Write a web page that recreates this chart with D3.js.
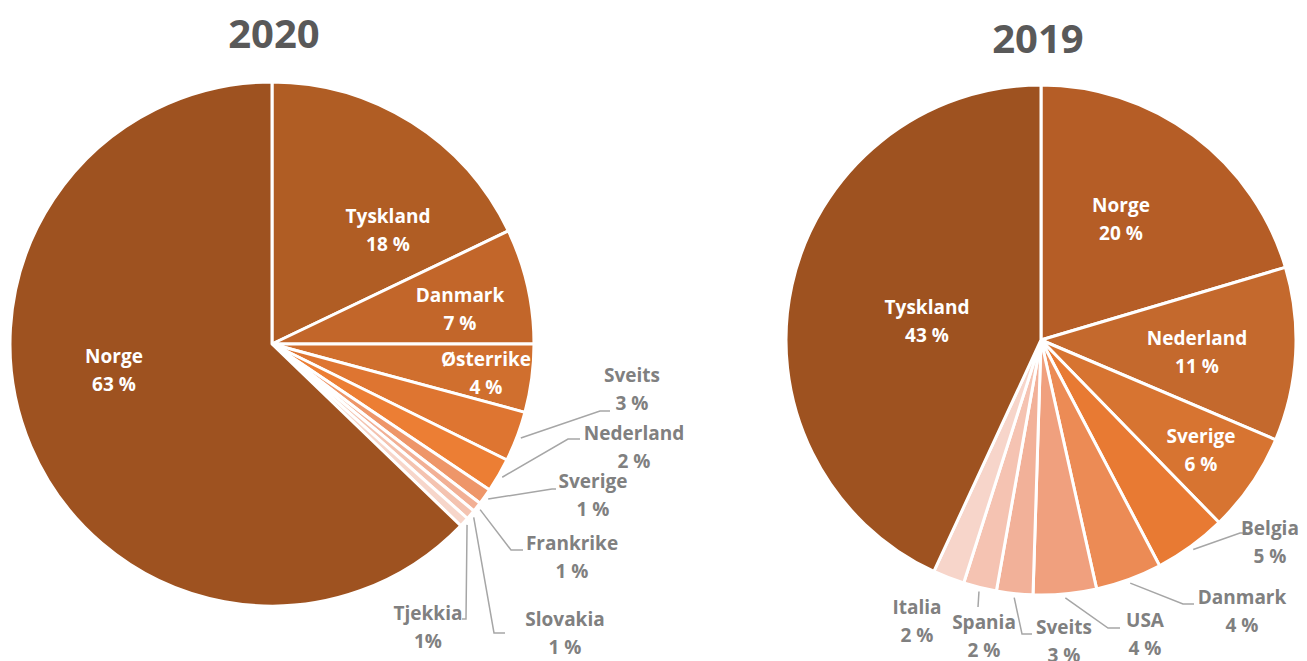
<!DOCTYPE html>
<html>
<head>
<meta charset="utf-8">
<script src="https://cdn.jsdelivr.net/npm/d3@7/dist/d3.min.js"></script>
<style>
  body { margin: 0; background: #fff; }
  svg { display: block; font-family: "Open Sans", sans-serif; font-weight: bold; }
  .title { fill: #595959; font-size: 40px; text-anchor: middle; }
  .lbl { font-size: 19px; text-anchor: middle; }
  .lbl.in { fill: #fff; }
  .lbl.out { fill: #808080; }
  .leader { fill: none; stroke: #a6a6a6; stroke-width: 1.5; }
</style>
</head>
<body>
<svg width="1307" height="661"></svg>
<script>
// 2020 - clockwise from 12 o'clock
const countries2020 = ['Tyskland', 'Danmark', 'Østerrike', 'Sveits', 'Nederland', 'Sverige', 'Frankrike', 'Slovakia', 'Tjekkia', 'Norge'];
const shares2020 = [17.9, 7.1, 4.2, 3.1, 2.1, 1.0, 0.6, 0.6, 0.6, 62.8];
const pctText2020 = ['18 %', '7 %', '4 %', '3 %', '2 %', '1 %', '1 %', '1 %', '1%', '63 %'];

// 2019
const countries2019 = ['Norge', 'Nederland', 'Sverige', 'Belgia', 'Danmark', 'USA', 'Sveits', 'Spania', 'Italia', 'Tyskland'];
const shares2019 = [20.4, 11.0, 6.3, 4.6, 4.2, 4.0, 2.3, 2.1, 2.0, 43.1];
const pctText2019 = ['20 %', '11 %', '6 %', '5 %', '4 %', '4 %', '3 %', '2 %', '2 %', '43 %'];

const colors2020 = ['#b05d24', '#c2662a', '#d06f2e', '#de7531', '#ec7e34', '#ee9669', '#f2b095', '#f4c3b0', '#f7d6ca', '#9e5220'];
const colors2019 = ['#b55d26', '#c4692d', '#d77431', '#e87a33', '#ec8b55', '#f0a07e', '#f2b199', '#f5c3b2', '#f7d5ca', '#9e5220'];

// label placement, relative to the pie centre (text: centre x / first baseline)
const layout2020 = {
  cx: 272, cy: 344, r: 262, title: '2020', titleX: 274, titleY: 48,
  labels: [
    { text: [116, -121], inside: true },
    { text: [188, -42], inside: true },
    { text: [214, 22], inside: true },
    { text: [360, 38], elbow: [328, 67], end: [338, 67] },
    { text: [362, 96], elbow: [296, 95], end: [308, 95] },
    { text: [321, 144], elbow: [280, 145], end: [284, 145] },
    { text: [300, 206], elbow: [239, 206], end: [251, 206] },
    { text: [293, 282], elbow: [222, 289], end: [233, 289] },
    { text: [156, 276], elbow: [194, 275], end: [190, 275] },
    { text: [-158, 19], inside: true }
  ]
};

const layout2019 = {
  cx: 1041, cy: 340, r: 255, title: '2019', titleX: 1038, titleY: 53,
  labels: [
    { text: [80, -128], inside: true },
    { text: [156, 5], inside: true },
    { text: [160, 103], inside: true },
    { text: [229, 195], elbow: [199, 193], end: [206, 193] },
    { text: [201, 264], elbow: [142, 264], end: [153, 264] },
    { text: [104, 287], elbow: [67, 288], end: [79, 288] },
    { text: [23, 294], elbow: [-19, 294], end: [-9, 294] },
    { text: [-57, 289], elbow: [-63, 267], end: [-63, 267] },
    { text: [-124, 274] },
    { text: [-114, -26], inside: true }
  ]
};

const svg = d3.select('svg');
const lineH = 28;

const drawPie = (names, shares, pctText, colors, lay) => {
  const pie = d3.pie().sort(null).value(d => d)(shares);
  const arc = d3.arc().innerRadius(0).outerRadius(lay.r);
  const edge = d3.arc().innerRadius(lay.r + 4).outerRadius(lay.r + 4);

  svg.append('text')
    .attr('class', 'title')
    .attr('x', lay.titleX)
    .attr('y', lay.titleY)
    .text(lay.title);

  const g = svg.append('g')
    .attr('transform', `translate(${lay.cx},${lay.cy})`);

  g.selectAll('path.slice').data(pie)
    .enter().append('path')
      .attr('class', 'slice')
      .attr('d', arc)
      .attr('fill', (d, i) => colors[i])
      .attr('stroke', '#fff')
      .attr('stroke-width', 3)
      .attr('stroke-linejoin', 'round');

  // leader lines
  g.selectAll('path.leader').data(pie.filter((d, i) => lay.labels[i].elbow))
    .enter().append('path')
      .attr('class', 'leader')
      .attr('d', d => {
        const l = lay.labels[d.index];
        return d3.line()([edge.centroid(d), l.elbow, l.end]);
      });

  const lbl = g.selectAll('text.lbl').data(pie)
    .enter().append('text')
      .attr('class', (d, i) => 'lbl ' + (lay.labels[i].inside ? 'in' : 'out'))
      .attr('x', (d, i) => lay.labels[i].text[0])
      .attr('y', (d, i) => lay.labels[i].text[1]);

  lbl.append('tspan')
    .attr('x', (d, i) => lay.labels[i].text[0])
    .text((d, i) => names[i]);
  lbl.append('tspan')
    .attr('x', (d, i) => lay.labels[i].text[0])
    .attr('dy', lineH)
    .text((d, i) => pctText[i]);
};

drawPie(countries2020, shares2020, pctText2020, colors2020, layout2020);
drawPie(countries2019, shares2019, pctText2019, colors2019, layout2019);
</script>
</body>
</html>
